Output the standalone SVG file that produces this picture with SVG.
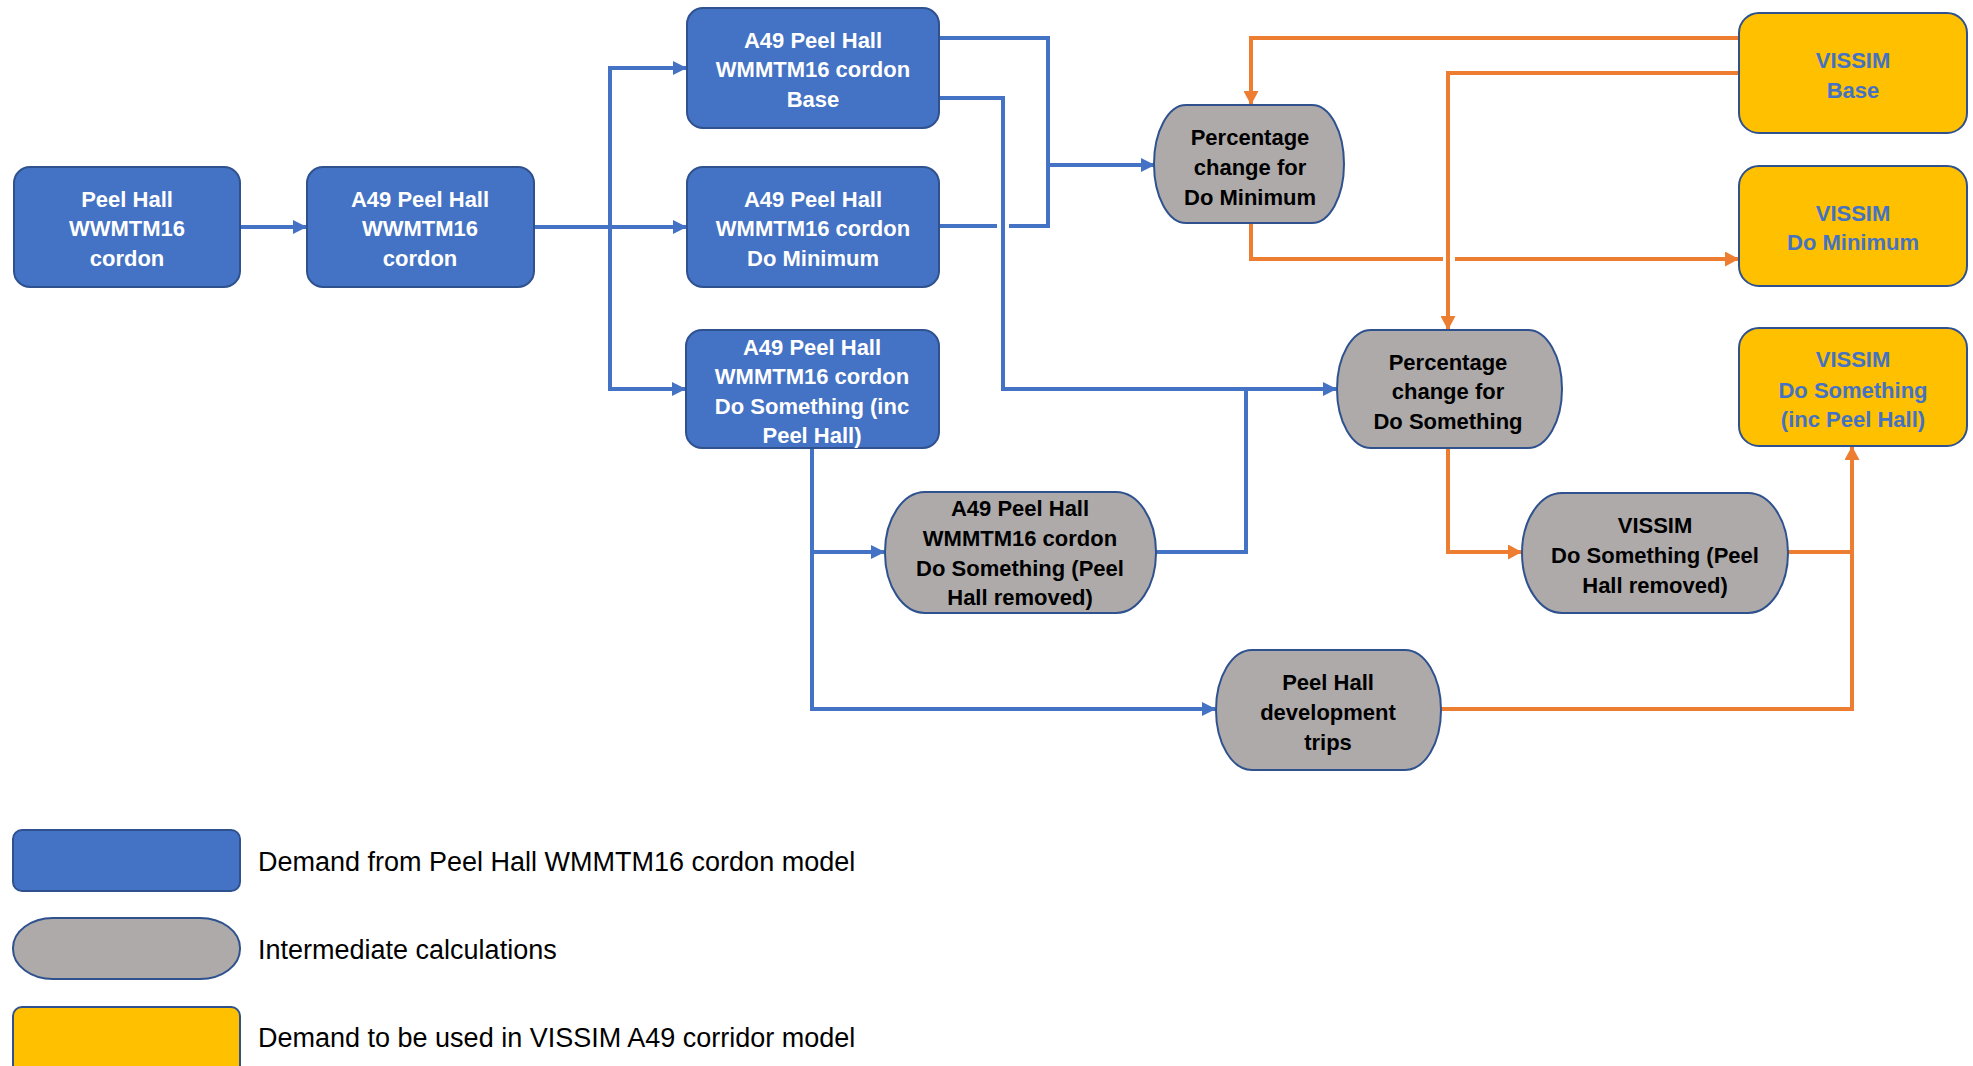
<svg xmlns="http://www.w3.org/2000/svg" width="1973" height="1066" viewBox="0 0 1973 1066">
<defs>
<style>
.blue{fill:#4472C4;stroke:#2F528F;stroke-width:2}
.gray{fill:#AEAAAA;stroke:#2F528F;stroke-width:2}
.yel{fill:#FFC000;stroke:#2F528F;stroke-width:2}
.t{font-family:"Liberation Sans",Arial,sans-serif;font-weight:bold;font-size:22px;text-anchor:middle}
.tw{fill:#FFFFFF}
.tk{fill:#000000}
.tb{fill:#4472C4}
.leg{font-family:"Liberation Sans",Arial,sans-serif;font-size:27px;fill:#000000}
.cb{fill:none;stroke:#4472C4;stroke-width:4}
.co{fill:none;stroke:#ED7D31;stroke-width:4}
</style>
<marker id="ab" markerUnits="userSpaceOnUse" markerWidth="14" markerHeight="14" refX="13" refY="7" orient="auto">
<path d="M0,0 L14,7 L0,14 Z" fill="#4472C4"/>
</marker>
<marker id="ao" markerUnits="userSpaceOnUse" markerWidth="14" markerHeight="15" refX="13" refY="7.5" orient="auto">
<path d="M0,0 L14,7.5 L0,15 Z" fill="#ED7D31"/>
</marker>
</defs>
<rect width="1973" height="1066" fill="#FFFFFF"/>

<g id="connectors">
<path class="cb" d="M240,227 H306" marker-end="url(#ab)"/>
<path class="cb" d="M534,227 H686" marker-end="url(#ab)"/>
<path class="cb" d="M534,227 H610 V68 H686" marker-end="url(#ab)"/>
<path class="cb" d="M610,227 V389 H685" marker-end="url(#ab)"/>
<path class="cb" d="M939,38 H1048 V165 H1154" marker-end="url(#ab)"/>
<path class="cb" d="M939,226 H997"/>
<path class="cb" d="M1009,226 H1048 V165"/>
<path class="cb" d="M939,98 H1003 V389 H1336" marker-end="url(#ab)"/>
<path class="cb" d="M812,448 V709 H1215" marker-end="url(#ab)"/>
<path class="cb" d="M812,552 H884" marker-end="url(#ab)"/>
<path class="cb" d="M1156,552 H1246 V389"/>
<path class="co" d="M1739,38 H1251 V104" marker-end="url(#ao)"/>
<path class="co" d="M1739,73 H1448 V329" marker-end="url(#ao)"/>
<path class="co" d="M1251,223 V259 H1443"/>
<path class="co" d="M1455,259 H1738" marker-end="url(#ao)"/>
<path class="co" d="M1448,448 V552 H1521" marker-end="url(#ao)"/>
<path class="co" d="M1788,552 H1852"/>
<path class="co" d="M1441,709 H1852 V447" marker-end="url(#ao)"/>
</g>

<g id="n-peelhall-cordon">
<rect class="blue" x="14" y="167" width="226" height="120" rx="16"/>
<text class="t tw" x="127" y="207">Peel Hall</text>
<text class="t tw" x="127" y="236">WWMTM16</text>
<text class="t tw" x="127" y="266">cordon</text>
</g>
<g id="n-a49-cordon">
<rect class="blue" x="307" y="167" width="227" height="120" rx="16"/>
<text class="t tw" x="420" y="207">A49 Peel Hall</text>
<text class="t tw" x="420" y="236">WWMTM16</text>
<text class="t tw" x="420" y="266">cordon</text>
</g>
<g id="n-a49-base">
<rect class="blue" x="687" y="8" width="252" height="120" rx="16"/>
<text class="t tw" x="813" y="48">A49 Peel Hall</text>
<text class="t tw" x="813" y="77">WMMTM16 cordon</text>
<text class="t tw" x="813" y="107">Base</text>
</g>
<g id="n-a49-dm">
<rect class="blue" x="687" y="167" width="252" height="120" rx="16"/>
<text class="t tw" x="813" y="207">A49 Peel Hall</text>
<text class="t tw" x="813" y="236">WMMTM16 cordon</text>
<text class="t tw" x="813" y="266">Do Minimum</text>
</g>
<g id="n-a49-ds">
<rect class="blue" x="686" y="330" width="253" height="118" rx="16"/>
<text class="t tw" x="812" y="355">A49 Peel Hall</text>
<text class="t tw" x="812" y="384">WMMTM16 cordon</text>
<text class="t tw" x="812" y="414">Do Something (inc</text>
<text class="t tw" x="812" y="443">Peel Hall)</text>
</g>
<g id="n-pct-dm">
<rect class="gray" x="1154" y="105" width="190" height="118" rx="32" ry="59"/>
<text class="t tk" x="1250" y="145">Percentage</text>
<text class="t tk" x="1250" y="175">change for</text>
<text class="t tk" x="1250" y="205">Do Minimum</text>
</g>
<g id="n-pct-ds">
<rect class="gray" x="1337" y="330" width="225" height="118" rx="34" ry="59"/>
<text class="t tk" x="1448" y="370">Percentage</text>
<text class="t tk" x="1448" y="399">change for</text>
<text class="t tk" x="1448" y="429">Do Something</text>
</g>
<g id="n-a49-ds-removed">
<rect class="gray" x="885" y="492" width="271" height="121" rx="40" ry="60"/>
<text class="t tk" x="1020" y="516">A49 Peel Hall</text>
<text class="t tk" x="1020" y="546">WMMTM16 cordon</text>
<text class="t tk" x="1020" y="576">Do Something (Peel</text>
<text class="t tk" x="1020" y="605">Hall removed)</text>
</g>
<g id="n-vissim-ds-removed">
<rect class="gray" x="1522" y="493" width="266" height="120" rx="40" ry="60"/>
<text class="t tk" x="1655" y="533">VISSIM</text>
<text class="t tk" x="1655" y="563">Do Something (Peel</text>
<text class="t tk" x="1655" y="593">Hall removed)</text>
</g>
<g id="n-dev-trips">
<rect class="gray" x="1216" y="650" width="225" height="120" rx="36" ry="60"/>
<text class="t tk" x="1328" y="690">Peel Hall</text>
<text class="t tk" x="1328" y="720">development</text>
<text class="t tk" x="1328" y="750">trips</text>
</g>
<g id="n-vissim-base">
<rect class="yel" x="1739" y="13" width="228" height="120" rx="20"/>
<text class="t tb" x="1853" y="68">VISSIM</text>
<text class="t tb" x="1853" y="98">Base</text>
</g>
<g id="n-vissim-dm">
<rect class="yel" x="1739" y="166" width="228" height="120" rx="20"/>
<text class="t tb" x="1853" y="221">VISSIM</text>
<text class="t tb" x="1853" y="250">Do Minimum</text>
</g>
<g id="n-vissim-ds">
<rect class="yel" x="1739" y="328" width="228" height="118" rx="20"/>
<text class="t tb" x="1853" y="367">VISSIM</text>
<text class="t tb" x="1853" y="398">Do Something</text>
<text class="t tb" x="1853" y="427">(inc Peel Hall)</text>
</g>

<g id="legend">
<rect class="blue" x="13" y="830" width="227" height="61" rx="9"/>
<text class="leg" x="258" y="871">Demand from Peel Hall WMMTM16 cordon model</text>
<rect class="gray" x="13" y="918" width="227" height="61" rx="40" ry="30"/>
<text class="leg" x="258" y="959">Intermediate calculations</text>
<rect class="yel" x="13" y="1007" width="227" height="70" rx="9"/>
<text class="leg" x="258" y="1047">Demand to be used in VISSIM A49 corridor model</text>
</g>
</svg>
